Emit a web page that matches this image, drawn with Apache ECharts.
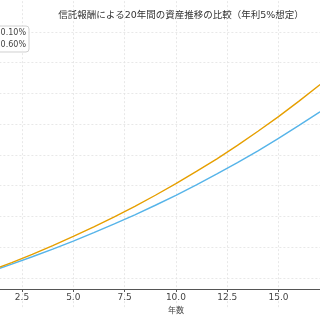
<!DOCTYPE html>
<html>
<head>
<meta charset="utf-8">
<script src="https://cdn.jsdelivr.net/npm/echarts@6/dist/echarts.min.js"></script>
<style>html,body{margin:0;padding:0;background:#fff}#c{width:320px;height:320px}</style>
</head>
<body>
<div id="c"></div>
<script>
// Years 0..20, asset value (万円) starting from 100
var years = [0,1,2,3,4,5,6,7,8,9,10,11,12,13,14,15,16,17,18,19,20];
var feeLow = [100.0,104.9,110.0,115.4,121.1,127.0,133.2,139.8,146.6,153.8,161.3,169.3,177.5,186.2,195.4,204.9,215.0,225.5,236.6,248.2,260.3];
var feeHigh = [100.0,104.4,109.0,113.8,118.8,124.0,129.5,135.2,141.1,147.3,153.8,160.6,167.7,175.0,182.7,190.8,199.2,207.9,217.1,226.6,236.6];
var seriesNames = ['信託報酬 0.10%', '信託報酬 0.60%'];
var titleText = '信託報酬による20年間の資産推移の比較（年利5%想定）';
var xName = '年数';

function pairs(xs, ys){ return xs.map(function(x,i){ return [x, ys[i]]; }); }

var chart = echarts.init(document.getElementById('c'), null, {renderer:'canvas'});
chart.setOption({
  animation: false,
  backgroundColor: '#fff',
  title: {
    text: titleText,
    left: 176, top: 6, textAlign: 'center',
    textStyle: {fontSize: 9.5, fontWeight: 'normal', color: '#333', fontFamily: 'DejaVu Sans, Noto Sans CJK JP'}
  },
  legend: {
    orient: 'vertical', right: 291, top: 26,
    data: seriesNames,
    borderColor: '#d0d0d0', borderWidth: 1, borderRadius: 3,
    padding: [3, 3, 3, 3], itemGap: 4, itemWidth: 18, itemHeight: 8,
    icon: 'path://M0,4L18,4L18,5L0,5Z',
    textStyle: {fontSize: 8, color: '#444', fontFamily: 'DejaVu Sans, Noto Sans CJK JP', padding: [0,0,0,-2]},
    backgroundColor: 'rgba(255,255,255,0.8)'
  },
  grid: {left: -80.6, right: -112.4, top: 1.16, bottom: 11.24, containLabel: false, outerBoundsMode: 'none'},
  xAxis: {
    type: 'value', min: -2.5, max: 22.5, interval: 2.5,
    offset: -19.76,
    name: xName, nameLocation: 'middle', nameGap: 17,
    nameTextStyle: {fontSize: 8, color: '#444', fontFamily: 'DejaVu Sans, Noto Sans CJK JP'},
    axisLine: {lineStyle: {color: '#555', width: 1}},
    axisTick: {show: true, length: 3, lineStyle: {color: '#555'}},
    axisLabel: {fontSize: 9, color: '#444', fontFamily: 'DejaVu Sans', margin: 4,
      formatter: function(v){ return v.toFixed(1); }},
    splitLine: {show: true, showMinLine: false, showMaxLine: false, lineStyle: {color: '#e2e2e2', width: 0.8, type: [2, 2]}}
  },
  yAxis: {
    type: 'value', min: 80, max: 280, interval: 20,
    axisLine: {show: false}, axisTick: {show: false}, axisLabel: {show: false},
    splitLine: {show: true, showMinLine: false, showMaxLine: false, lineStyle: {color: '#e2e2e2', width: 0.8, type: [2, 2]}}
  },
  series: [
    {name: seriesNames[1], type: 'line', data: pairs(years, feeHigh), showSymbol: false,
     lineStyle: {color: '#56B4E9', width: 1.4}, itemStyle: {color: '#56B4E9'}, z: 2},
    {name: seriesNames[0], type: 'line', data: pairs(years, feeLow), showSymbol: false,
     lineStyle: {color: '#E69F00', width: 1.4}, itemStyle: {color: '#E69F00'}, z: 3}
  ]
});
</script>
</body>
</html>
